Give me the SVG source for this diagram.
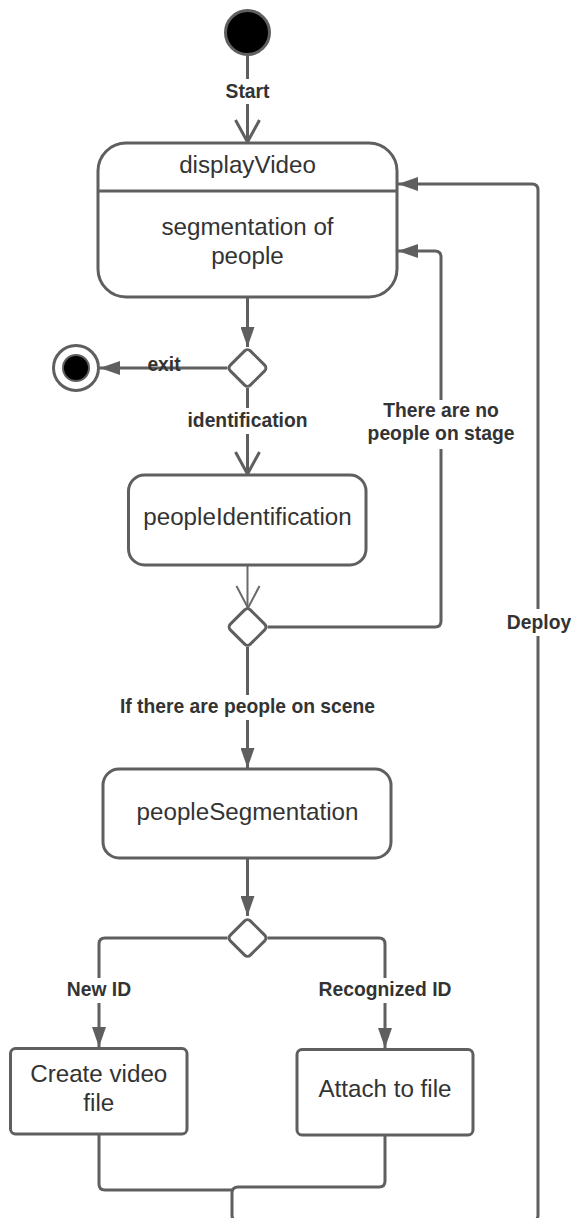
<svg xmlns="http://www.w3.org/2000/svg" width="571" height="1218" viewBox="0 0 571 1218">
<defs>
<style>
.node{fill:#fff;stroke:#5f5f5f;stroke-width:3}
.conn{fill:none;stroke:#5f5f5f;stroke-width:3;stroke-linejoin:round}
.thin{fill:none;stroke:#6a6a6a;stroke-width:2}
.ntext{font-family:"Liberation Sans",Arial,sans-serif;font-size:24.2px;fill:#333;text-anchor:middle}
.ltext{font-family:"Liberation Sans",Arial,sans-serif;font-size:19.3px;font-weight:bold;fill:#333;text-anchor:middle}
.bg{fill:#fff}
</style>
<marker id="filled" viewBox="0 0 20 14" refX="20" refY="7" markerWidth="20" markerHeight="14" markerUnits="userSpaceOnUse" orient="auto">
<path d="M0,0 L20,7 L0,14 Z" fill="#5f5f5f"/>
</marker>
<marker id="open" viewBox="-2 -2 26 28" refX="22" refY="12" markerWidth="26" markerHeight="28" markerUnits="userSpaceOnUse" orient="auto">
<path d="M0,0 L22,12 L0,24" fill="none" stroke="#5f5f5f" stroke-width="3"/>
</marker>
<marker id="openthin" viewBox="-2 -2 26 28" refX="22" refY="12" markerWidth="26" markerHeight="28" markerUnits="userSpaceOnUse" orient="auto">
<path d="M0,0 L22,11.5 L0,23" fill="none" stroke="#6a6a6a" stroke-width="2"/>
</marker>
</defs>
<rect width="571" height="1218" fill="#fff"/>

<g id="connectors">
<path class="conn" d="M247.5,55 V142" marker-end="url(#open)"/>
<path class="conn" d="M247.5,297 V347" marker-end="url(#filled)"/>
<path class="conn" d="M227.5,368 H100" marker-end="url(#filled)"/>
<path class="conn" d="M247.5,388 V474" marker-end="url(#open)"/>
<path class="thin" d="M247.5,566 V608" marker-end="url(#openthin)"/>
<path class="conn" d="M267.5,627 H435 Q441,627 441,621 V257 Q441,251 435,251 H398" marker-end="url(#filled)"/>
<path class="conn" d="M247.5,647 V768" marker-end="url(#filled)"/>
<path class="conn" d="M247.5,858 V916" marker-end="url(#filled)"/>
<path class="conn" d="M227.5,938 H105 Q99,938 99,944 V1047" marker-end="url(#filled)"/>
<path class="conn" d="M267.5,938 H379 Q385,938 385,944 V1048" marker-end="url(#filled)"/>
<path class="conn" d="M99,1135 V1184 Q99,1190 105,1190 H232"/>
<path class="conn" d="M385,1136 V1181 Q385,1187 379,1187 H238 Q232,1187 232,1193 V1215 Q232,1221 238,1221 H532 Q538,1221 538,1215 V190 Q538,184 532,184 H398" marker-end="url(#filled)"/>

<rect class="bg" x="221" y="79" width="53" height="25"/>
<text class="ltext" x="247.5" y="97.5">Start</text>
<rect class="bg" x="147" y="356" width="34" height="10"/>
<text class="ltext" x="164" y="371">exit</text>
<rect class="bg" x="184" y="408" width="128" height="26"/>
<text class="ltext" x="247.5" y="426.5">identification</text>
<rect class="bg" x="376" y="400" width="130" height="49"/>
<text class="ltext" x="441" y="416.5">There are no</text>
<text class="ltext" x="441" y="440">people on stage</text>
<rect class="bg" x="113" y="695" width="270" height="25"/>
<text class="ltext" x="247.5" y="712.5">If there are people on scene</text>
<rect class="bg" x="502" y="609" width="72" height="27"/>
<text class="ltext" x="539" y="628.5">Deploy</text>
<rect class="bg" x="62" y="978" width="74" height="25"/>
<text class="ltext" x="99" y="996">New ID</text>
<rect class="bg" x="313" y="978" width="144" height="25"/>
<text class="ltext" x="385" y="996">Recognized ID</text>
</g>

<g id="start">
<circle cx="247.5" cy="32.5" r="22" fill="#000" stroke="#5f5f5f" stroke-width="3"/>
</g>
<g id="displayVideo">
<rect class="node" x="98" y="143" width="299" height="154" rx="28"/>
<line x1="98" y1="191" x2="397" y2="191" stroke="#5f5f5f" stroke-width="3"/>
<text class="ntext" x="247.5" y="173">displayVideo</text>
<text class="ntext" x="247.5" y="235">segmentation of</text>
<text class="ntext" x="247.5" y="264">people</text>
</g>
<g id="decision1">
<rect class="node" x="-14.14" y="-14.14" width="28.28" height="28.28" rx="4" transform="translate(247.5,368) rotate(45)"/>
</g>
<g id="end">
<circle cx="76" cy="368" r="22.5" fill="#fff" stroke="#5f5f5f" stroke-width="3"/>
<circle cx="76" cy="368" r="13" fill="#000" stroke="#5f5f5f" stroke-width="2"/>
</g>
<g id="peopleIdentification">
<rect class="node" x="128.5" y="475" width="237.5" height="90" rx="16"/>
<text class="ntext" x="247.5" y="525">peopleIdentification</text>
</g>
<g id="decision2">
<rect class="node" x="-14.14" y="-14.14" width="28.28" height="28.28" rx="4" transform="translate(247.5,627) rotate(45)"/>
</g>
<g id="peopleSegmentation">
<rect class="node" x="103" y="769" width="288" height="89" rx="16"/>
<text class="ntext" x="247.5" y="820">peopleSegmentation</text>
</g>
<g id="decision3">
<rect class="node" x="-14.14" y="-14.14" width="28.28" height="28.28" rx="4" transform="translate(247.5,938) rotate(45)"/>
</g>
<g id="createVideoFile">
<rect class="node" x="10.5" y="1048.5" width="176.5" height="85.5" rx="5"/>
<text class="ntext" x="98.75" y="1082">Create video</text>
<text class="ntext" x="98.75" y="1111">file</text>
</g>
<g id="attachToFile">
<rect class="node" x="297" y="1049.5" width="176" height="85.5" rx="5"/>
<text class="ntext" x="385" y="1097">Attach to file</text>
</g>
</svg>
